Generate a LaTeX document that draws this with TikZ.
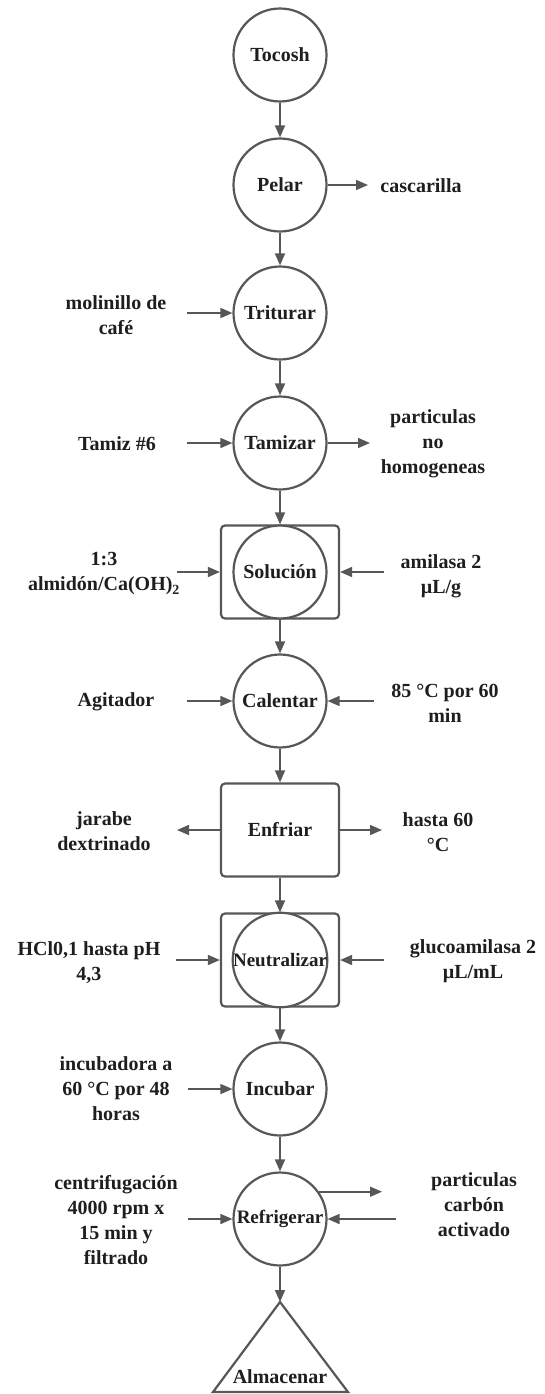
\documentclass[tikz,border=0pt]{standalone}
\usepackage{fontspec}
\setmainfont{Liberation Serif}
\usetikzlibrary{arrows.meta}
\definecolor{linec}{HTML}{575757}
\definecolor{txt}{HTML}{1E1E1E}
\newcommand{\lblfont}{\bfseries\fontsize{20}{25}\selectfont}
\newcommand{\smlfont}{\bfseries\fontsize{19}{24}\selectfont}
\tikzset{
  proc/.style={circle, draw=linec, line width=2.2pt, minimum size=93pt, inner sep=0pt, text=txt, font=\lblfont, fill=white},
  boxnode/.style={draw=linec, line width=2.2pt, rounded corners=4pt, minimum width=118pt, minimum height=93pt, inner sep=0pt, text=txt, font=\lblfont},
  lbl/.style={align=center, text=txt, font=\lblfont, inner sep=0pt},
  arr/.style={draw=linec, line width=1.6pt, -{Triangle[length=12pt,width=10pt]}},
}
\begin{document}
\begin{tikzpicture}[x=1pt,y=-1pt]
\useasboundingbox (0,0) rectangle (545,1394);
% main column
\node[proc] (toc) at (280,55) {Tocosh};
\node[proc] (pel) at (280,185) {Pelar};
\node[proc] (tri) at (280,313) {Triturar};
\node[proc] (tam) at (280,443) {Tamizar};
\node[boxnode] (solB) at (280,572) {};
\node[proc] (sol) at (280,572) {Solución};
\node[proc] (cal) at (280,701) {Calentar};
\node[boxnode] (enf) at (280,830) {Enfriar};
\node[boxnode] (neuB) at (280,960) {};
\node[proc, font=\smlfont] (neu) at (280,960) {Neutralizar};
\node[proc] (inc) at (280,1089) {Incubar};
\node[proc, font=\smlfont] (ref) at (280,1219) {Refrigerar};
\coordinate (almTop) at (280,1302);
\draw[linec, line width=2.2pt] (213,1392) -- (almTop) -- (348,1392) -- cycle;
\node[lbl] (alm) at (280,1377) {Almacenar};
% vertical arrows
\draw[arr] (toc) -- (pel);
\draw[arr] (pel) -- (tri);
\draw[arr] (tri) -- (tam);
\draw[arr] (tam) -- (solB);
\draw[arr] (solB) -- (cal);
\draw[arr] (cal) -- (enf);
\draw[arr] (enf) -- (neuB);
\draw[arr] (neuB) -- (inc);
\draw[arr] (inc) -- (ref);
\draw[arr] (ref) -- (almTop);
% side labels
\node[lbl] (casc) at (421,186) {cascarilla};
\node[lbl] (mol) at (116,315) {molinillo de\\café};
\node[lbl] (tamiz) at (117,444) {Tamiz \#6};
\node[lbl] (part) at (433,444) {particulas\\no\\homogeneas};
\node[lbl] (almid) at (104,574) {1:3\\almidón/Ca(OH)\textsubscript{2}};
\node[lbl] (amil) at (441,576) {amilasa 2\\µL/g};
\node[lbl] (agit) at (116,702) {Agitador};
\node[lbl] (tempA) at (445,703) {85 °C por 60\\min};
\node[lbl] (jar) at (104,831) {jarabe\\dextrinado};
\node[lbl] (hasta) at (438,832) {hasta 60\\°C};
\node[lbl] (hcl) at (89,963) {HCl0,1 hasta pH\\4,3};
\node[lbl] (gluc) at (473,961) {glucoamilasa 2\\µL/mL};
\node[lbl] (incu) at (116,1089) {incubadora a\\60 °C por 48\\horas};
\node[lbl] (cent) at (116,1220) {centrifugación\\4000 rpm x\\15 min y\\filtrado};
\node[lbl] (carb) at (474,1205) {particulas\\carbón\\activado};
% side arrow ends
\coordinate (pelR) at (368,185);
\coordinate (triL) at (187,313);
\coordinate (tamL) at (187,443);
\coordinate (tamR) at (370,443);
\coordinate (solL) at (177,572);
\coordinate (solR) at (384,572);
\coordinate (calL) at (187,701);
\coordinate (calR) at (374,701);
\coordinate (enfL) at (177,830);
\coordinate (enfR) at (382,830);
\coordinate (neuL) at (176,960);
\coordinate (neuR) at (384,960);
\coordinate (incL) at (188,1089);
\coordinate (refL) at (188,1219);
\coordinate (refR) at (396,1219);
\coordinate (refOut) at (382,1192);
% side arrows
\draw[arr] (pel) -- (pelR);
\draw[arr] (triL) -- (tri);
\draw[arr] (tamL) -- (tam);
\draw[arr] (tam) -- (tamR);
\draw[arr] (solL) -- (solB);
\draw[arr] (solR) -- (solB);
\draw[arr] (calL) -- (cal);
\draw[arr] (calR) -- (cal);
\draw[arr] (enf) -- (enfL);
\draw[arr] (enf) -- (enfR);
\draw[arr] (neuL) -- (neuB);
\draw[arr] (neuR) -- (neuB);
\draw[arr] (incL) -- (inc);
\draw[arr] (refL) -- (ref);
\draw[arr] (refR) -- (ref);
\draw[arr] (ref.35) -- (ref.35 -| refOut);
\end{tikzpicture}
\end{document}
